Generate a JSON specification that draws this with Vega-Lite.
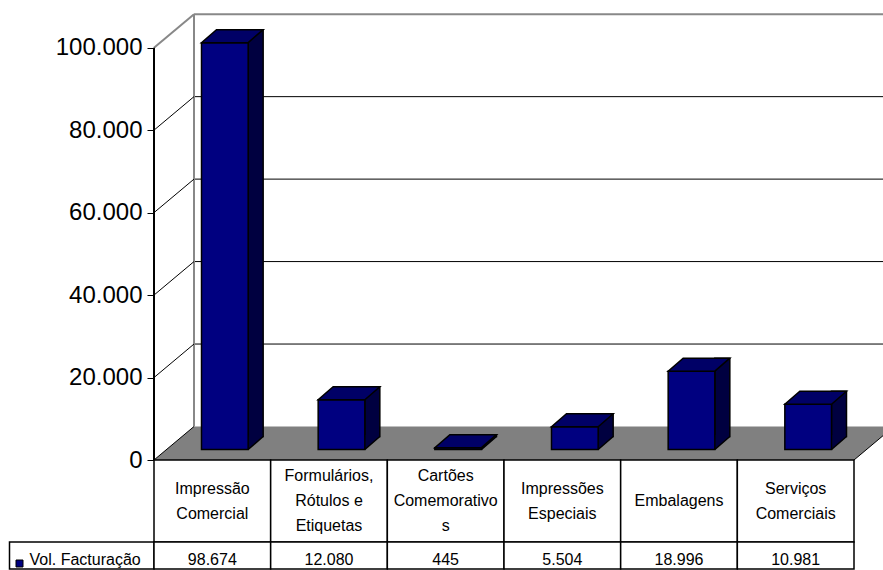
{
  "$schema": "https://vega.github.io/schema/vega-lite/v6.json",
  "padding": {"left": 8, "top": 13, "right": 0, "bottom": 0},
  "background": "white",
  "spacing": 0,
  "bounds": "flush",
  "config": {
    "view": {"stroke": null},
    "axisX": {"disable": true},
    "font": "Liberation Sans",
    "locale": {"number": {"decimal": ",", "thousands": ".", "grouping": [3], "currency": ["", ""]}}
  },
  "datasets": {
    "vendas": [
      {"categoria": "Impressão Comercial", "rotulo": "Impressão\nComercial", "volume": 98674, "serie": "Vol. Facturação"},
      {"categoria": "Formulários, Rótulos e Etiquetas", "rotulo": "Formulários,\nRótulos e\nEtiquetas", "volume": 12080, "serie": "Vol. Facturação"},
      {"categoria": "Cartões Comemorativos", "rotulo": "Cartões\nComemorativo\ns", "volume": 445, "serie": "Vol. Facturação"},
      {"categoria": "Impressões Especiais", "rotulo": "Impressões\nEspeciais", "volume": 5504, "serie": "Vol. Facturação"},
      {"categoria": "Embalagens", "rotulo": "Embalagens", "volume": 18996, "serie": "Vol. Facturação"},
      {"categoria": "Serviços Comerciais", "rotulo": "Serviços\nComerciais", "volume": 10981, "serie": "Vol. Facturação"}
    ],
    "grade": [{"nivel": 20000}, {"nivel": 40000}, {"nivel": 60000}, {"nivel": 80000}],
    "niveis": [{"nivel": 0}, {"nivel": 20000}, {"nivel": 40000}, {"nivel": 60000}, {"nivel": 80000}]
  },
  "vconcat": [
    {
      "width": 700,
      "height": 447,
      "data": {"name": "vendas"},
      "layer": [
        {
          "data": {"values": [{}]},
          "mark": {"type": "point", "shape": "M0,0L700,0L729,-24.3L729,-33.5L40,-33.5Z", "size": 4, "filled": true, "fill": "#808080", "strokeWidth": 0, "opacity": 1},
          "encoding": {
            "x": {"datum": "Impressão Comercial", "bandPosition": 0, "type": "nominal", "scale": {"domain": ["Impressão Comercial", "Formulários, Rótulos e Etiquetas", "Cartões Comemorativos", "Impressões Especiais", "Embalagens", "Serviços Comerciais"], "paddingInner": 0, "paddingOuter": 0}, "axis": null},
            "y": {"datum": 0, "type": "quantitative", "scale": {"domain": [0, 108413], "nice": false, "zero": false}, "title": null}
          }
        },
        {
          "data": {"values": [{}]},
          "mark": {"type": "point", "shape": "M700,0L729,-24.3", "size": 4, "filled": false, "stroke": "black", "strokeWidth": 1, "opacity": 1},
          "encoding": {
            "x": {"datum": "Impressão Comercial", "bandPosition": 0, "type": "nominal"},
            "y": {"datum": 0, "type": "quantitative", "title": null}
          }
        },
        {
          "data": {"name": "grade"},
          "mark": {"type": "rule", "color": "black", "strokeWidth": 1, "xOffset": 40, "x2Offset": 29, "yOffset": -33.5},
          "encoding": {
            "x": {"datum": "Impressão Comercial", "bandPosition": 0, "type": "nominal"},
            "x2": {"datum": "Serviços Comerciais", "bandPosition": 1},
            "y": {"field": "nivel", "type": "quantitative", "title": null}
          }
        },
        {
          "data": {"values": [{}]},
          "mark": {"type": "rule", "color": "#888888", "strokeWidth": 2, "xOffset": 40, "x2Offset": 29, "yOffset": -33.5},
          "encoding": {
            "x": {"datum": "Impressão Comercial", "bandPosition": 0, "type": "nominal"},
            "x2": {"datum": "Serviços Comerciais", "bandPosition": 1},
            "y": {"datum": 100000, "type": "quantitative", "title": null}
          }
        },
        {
          "data": {"values": [{}]},
          "mark": {"type": "rule", "color": "#888888", "strokeWidth": 2, "xOffset": 40, "yOffset": -33.5, "y2Offset": -33.5},
          "encoding": {
            "x": {"datum": "Impressão Comercial", "bandPosition": 0, "type": "nominal"},
            "y": {"datum": 0, "type": "quantitative", "title": null},
            "y2": {"datum": 100000}
          }
        },
        {
          "data": {"name": "niveis"},
          "mark": {"type": "rule", "color": "black", "strokeWidth": 1, "x2Offset": 40, "y2Offset": -33.5},
          "encoding": {
            "x": {"datum": "Impressão Comercial", "bandPosition": 0, "type": "nominal"},
            "x2": {"datum": "Impressão Comercial", "bandPosition": 0},
            "y": {"field": "nivel", "type": "quantitative", "title": null},
            "y2": {"field": "nivel"}
          }
        },
        {
          "data": {"values": [{}]},
          "mark": {"type": "rule", "color": "#888888", "strokeWidth": 2, "x2Offset": 40, "y2Offset": -33.5},
          "encoding": {
            "x": {"datum": "Impressão Comercial", "bandPosition": 0, "type": "nominal"},
            "x2": {"datum": "Impressão Comercial", "bandPosition": 0},
            "y": {"datum": 100000, "type": "quantitative", "title": null},
            "y2": {"datum": 100000}
          }
        },
        {
          "data": {"values": [{}]},
          "mark": {"type": "rule", "color": "black", "strokeWidth": 2},
          "encoding": {
            "x": {"datum": "Impressão Comercial", "bandPosition": 0, "type": "nominal"},
            "y": {"datum": 0, "type": "quantitative", "title": null},
            "y2": {"datum": 100000}
          }
        },
        {
          "mark": {"type": "bar", "width": 15, "xOffset": 43.33, "yOffset": -23.5, "y2Offset": -23.5, "fill": "#000040", "stroke": "black", "strokeWidth": 1.5},
          "encoding": {
            "x": {"field": "categoria", "type": "nominal"},
            "y": {"field": "volume", "type": "quantitative", "title": null},
            "y2": {"datum": 0}
          }
        },
        {
          "mark": {"type": "point", "shape": "M23.33,0L37.58,-12.35L37.58,-14.6L23.33,-14.6Z", "size": 4, "filled": true, "fill": "#000040", "strokeWidth": 0, "opacity": 1, "xOffset": 12.5, "yOffset": -10.5},
          "encoding": {
            "x": {"field": "categoria", "type": "nominal"},
            "y": {"datum": 0, "type": "quantitative", "title": null}
          }
        },
        {
          "mark": {"type": "point", "shape": "M23.33,0L38.33,-13", "size": 4, "filled": false, "stroke": "black", "strokeWidth": 1.5, "opacity": 1, "xOffset": 12.5, "yOffset": -10.5},
          "encoding": {
            "x": {"field": "categoria", "type": "nominal"},
            "y": {"datum": 0, "type": "quantitative", "title": null}
          }
        },
        {
          "mark": {"type": "bar", "width": {"band": 0.4}, "xOffset": 12.5, "yOffset": -10.5, "y2Offset": -10.5, "fill": "#000080", "stroke": "black", "strokeWidth": 1.5},
          "encoding": {
            "x": {"field": "categoria", "type": "nominal"},
            "y": {
              "field": "volume", "type": "quantitative", "title": null,
              "axis": {"values": [0, 20000, 40000, 60000, 80000, 100000], "format": ",d", "domain": false, "grid": false, "ticks": true, "tickColor": "black", "tickSize": 7, "tickWidth": 1, "labelFontSize": 24, "labelColor": "black", "labelPadding": 5, "labelFont": "Liberation Sans"}
            },
            "y2": {"datum": 0}
          }
        },
        {
          "mark": {"type": "point", "shape": "M-23.33,0L23.33,0L38.33,-13L-8.33,-13Z", "size": 4, "filled": true, "fill": "#000066", "stroke": "black", "strokeWidth": 1.5, "opacity": 1, "xOffset": 12.5, "yOffset": -10.5},
          "encoding": {
            "x": {"field": "categoria", "type": "nominal"},
            "y": {"field": "volume", "type": "quantitative", "title": null}
          }
        }
      ]
    },
    {
      "width": 700,
      "height": 82,
      "data": {"name": "vendas"},
      "layer": [
        {
          "mark": {"type": "rect", "fill": "white", "stroke": "black", "strokeWidth": 1.5},
          "encoding": {
            "x": {"field": "categoria", "type": "nominal", "scale": {"domain": ["Impressão Comercial", "Formulários, Rótulos e Etiquetas", "Cartões Comemorativos", "Impressões Especiais", "Embalagens", "Serviços Comerciais"], "paddingInner": 0, "paddingOuter": 0}, "axis": null}
          }
        },
        {
          "transform": [{"filter": "length(split(datum.rotulo, '\\n')) == 1"}],
          "mark": {"type": "text", "fontSize": 16, "lineBreak": "\n", "lineHeight": 25, "baseline": "middle", "align": "center", "color": "black", "font": "Liberation Sans", "dy": 0},
          "encoding": {
            "x": {"field": "categoria", "type": "nominal"},
            "text": {"field": "rotulo"}
          }
        },
        {
          "transform": [{"filter": "length(split(datum.rotulo, '\\n')) == 2"}],
          "mark": {"type": "text", "fontSize": 16, "lineBreak": "\n", "lineHeight": 25, "baseline": "middle", "align": "center", "color": "black", "font": "Liberation Sans", "dy": -12.5},
          "encoding": {
            "x": {"field": "categoria", "type": "nominal"},
            "text": {"field": "rotulo"}
          }
        },
        {
          "transform": [{"filter": "length(split(datum.rotulo, '\\n')) == 3"}],
          "mark": {"type": "text", "fontSize": 16, "lineBreak": "\n", "lineHeight": 25, "baseline": "middle", "align": "center", "color": "black", "font": "Liberation Sans", "dy": -25},
          "encoding": {
            "x": {"field": "categoria", "type": "nominal"},
            "text": {"field": "rotulo"}
          }
        }
      ]
    },
    {
      "width": 700,
      "height": 27,
      "data": {"name": "vendas"},
      "layer": [
        {
          "data": {"values": [{"serie": "Vol. Facturação"}]},
          "mark": {"type": "rect", "fill": "white", "stroke": "black", "strokeWidth": 1.5, "xOffset": -144.5, "x2Offset": 0},
          "encoding": {
            "x": {"datum": "Impressão Comercial", "bandPosition": 0, "type": "nominal", "scale": {"domain": ["Impressão Comercial", "Formulários, Rótulos e Etiquetas", "Cartões Comemorativos", "Impressões Especiais", "Embalagens", "Serviços Comerciais"], "paddingInner": 0, "paddingOuter": 0}, "axis": null},
            "x2": {"datum": "Impressão Comercial", "bandPosition": 0},
            "y": {"field": "serie", "type": "nominal", "scale": {"paddingInner": 0, "paddingOuter": 0}, "title": null}
          }
        },
        {
          "mark": {"type": "rect", "fill": "white", "stroke": "black", "strokeWidth": 1.5},
          "encoding": {
            "x": {"field": "categoria", "type": "nominal"},
            "y": {
              "field": "serie", "type": "nominal", "title": null,
              "axis": {"domain": false, "ticks": false, "tickSize": 0, "labelAlign": "left", "labelBaseline": "middle", "labelPadding": 125, "labelOffset": 4.5, "labelFontSize": 16, "labelColor": "black", "labelFont": "Liberation Sans", "labelLimit": 200}
            }
          }
        },
        {
          "mark": {"type": "text", "fontSize": 16, "baseline": "middle", "align": "center", "color": "black", "font": "Liberation Sans", "yOffset": 4.5},
          "encoding": {
            "x": {"field": "categoria", "type": "nominal"},
            "y": {"field": "serie", "type": "nominal", "title": null},
            "text": {"field": "volume", "type": "quantitative", "format": ",d"}
          }
        },
        {
          "data": {"values": [{"serie": "Vol. Facturação"}]},
          "mark": {"type": "point", "shape": "square", "size": 49, "filled": true, "fill": "#000080", "stroke": "black", "strokeWidth": 1, "opacity": 1, "xOffset": -134.5, "yOffset": 8},
          "encoding": {
            "x": {"datum": "Impressão Comercial", "bandPosition": 0, "type": "nominal"},
            "y": {"field": "serie", "type": "nominal", "title": null}
          }
        }
      ]
    }
  ]
}
